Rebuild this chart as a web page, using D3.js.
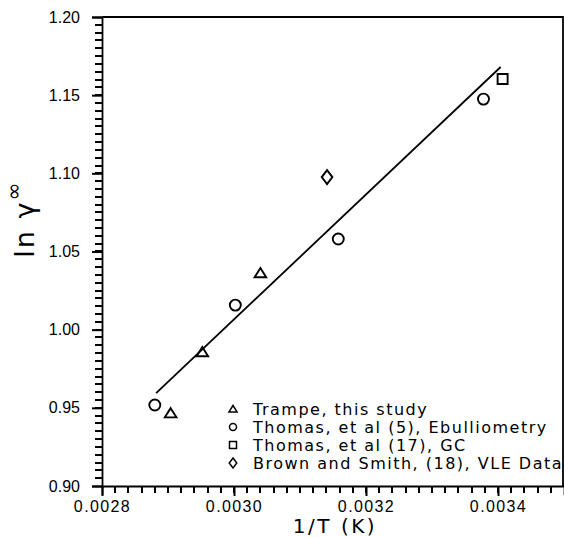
<!DOCTYPE html>
<html>
<head>
<meta charset="utf-8">
<script src="https://cdn.jsdelivr.net/npm/d3@7"></script>
<style>
  body { margin: 0; background: #fff; }
  svg { display: block; font-family: "DejaVu Sans", sans-serif; }
</style>
</head>
<body>
<svg id="chart" width="564" height="537"></svg>
<script>
// values
const trampeX = [0.002904, 0.002952, 0.003040];
const trampeY = [0.9466, 0.9857, 1.0362];
const thomasEbX = [0.002880, 0.003002, 0.003158, 0.003378];
const thomasEbY = [0.9518, 1.0157, 1.0580, 1.1475];
const thomasGcX = [0.003407];
const thomasGcY = [1.1603];
const brownX = [0.003141];
const brownY = [1.0976];
const fitX = [0.002882, 0.003404];
const fitY = [0.9594, 1.1680];

const xMajor = [0.0028, 0.0030, 0.0032, 0.0034];
const yMajor = [0.90, 0.95, 1.00, 1.05, 1.10, 1.15, 1.20];

const legendLabels = [
  'Trampe, this study',
  'Thomas, et al (5), Ebulliometry',
  'Thomas, et al (17), GC',
  'Brown and Smith, (18), VLE Data'
];
const legendShapes = ['triangle', 'circle', 'square', 'diamond'];

const margin = { top: 17, right: 0, bottom: 51, left: 102 };
const height = 537;

const $svg = d3.select('#chart');

const x = d3.scaleLinear().domain([0.0028, 0.0035]).range([margin.left, 564]);
const y = d3.scaleLinear().domain([0.90, 1.20]).range([height - margin.bottom, margin.top]);

const zip = (xs, ys) => xs.map((d, i) => ({ x: d, y: ys[i] }));

const x0 = x(0.0028);
const y0 = y(0.90);

// minor ticks, every 0.00002 on x and 0.005 on y
const xMinor = d3.range(1, 35).map(i => 0.0028 + i * 0.00002);
const yMinor = d3.range(1, 60).map(i => 0.90 + i * 0.005);

const $ticks = $svg.append('g').attr('class', 'minor-ticks');

$ticks.selectAll('rect.xm')
  .data(xMinor)
  .join('rect')
  .attr('class', 'xm')
  .attr('x', d => Math.round(x(d)) - 1)
  .attr('y', y0)
  .attr('width', 2)
  .attr('height', 7)
  .attr('fill', '#000');

$ticks.selectAll('rect.ym')
  .data(yMinor)
  .join('rect')
  .attr('class', 'ym')
  .attr('x', x0 - 7)
  .attr('y', d => Math.round(y(d)) - 1)
  .attr('width', 7)
  .attr('height', 2)
  .attr('fill', '#000');

const $xAxis = $svg.append('g')
  .attr('transform', `translate(0,${y0})`)
  .call(d3.axisBottom(x).tickValues(xMajor).tickSize(9).tickPadding(6)
    .tickFormat(d3.format('.4f')));
$xAxis.selectAll('.tick line')
  .attr('stroke', '#000')
  .attr('stroke-width', 2)
  .attr('y2', 10);
$xAxis.select('.domain').attr('stroke', '#000').attr('stroke-width', 1.8);
$xAxis.selectAll('text')
  .attr('fill', '#000')
  .attr('font-size', 16)
  .attr('letter-spacing', 1.4);

const $yAxis = $svg.append('g')
  .attr('transform', `translate(${x0},0)`)
  .call(d3.axisLeft(y).tickValues(yMajor).tickSize(10).tickPadding(12)
    .tickFormat(d3.format('.2f')));
$yAxis.selectAll('.tick line')
  .attr('stroke', '#000')
  .attr('stroke-width', 2);
$yAxis.select('.domain').attr('stroke', '#000').attr('stroke-width', 1.8);
$yAxis.selectAll('text')
  .attr('fill', '#000')
  .attr('font-size', 16);

// top and right frame
$svg.append('path')
  .attr('d', `M${x0},${y(1.20)}H563V${y0}`)
  .attr('fill', 'none')
  .attr('stroke', '#000')
  .attr('stroke-width', 1.8);

// fitted line
const line = d3.line().x(d => x(d.x)).y(d => y(d.y));
$svg.append('path')
  .datum(zip(fitX, fitY))
  .attr('d', line)
  .attr('fill', 'none')
  .attr('stroke', '#000')
  .attr('stroke-width', 1.8);

// markers
function shapePath(shape, s) {
  if (shape === 'triangle') return `M0,${-s * 0.5}L${s * 0.58},${s * 0.42}L${-s * 0.58},${s * 0.42}Z`;
  if (shape === 'square') return `M${-s / 2},${-s / 2}h${s}v${s}h${-s}Z`;
  if (shape === 'diamond') return `M0,${-s * 0.5}L${s * 0.38},0L0,${s * 0.5}L${-s * 0.38},0Z`;
  return `M${s / 2},0A${s / 2},${s / 2} 0 1,1 ${-s / 2},0A${s / 2},${s / 2} 0 1,1 ${s / 2},0Z`;
}

const series = [
  { shape: 'triangle', pts: zip(trampeX, trampeY), size: 10 },
  { shape: 'circle', pts: zip(thomasEbX, thomasEbY), size: 11 },
  { shape: 'square', pts: zip(thomasGcX, thomasGcY), size: 10 },
  { shape: 'diamond', pts: zip(brownX, brownY), size: 14 }
];

series.forEach(s => {
  $svg.append('g')
    .selectAll('path')
    .data(s.pts)
    .join('path')
    .attr('transform', d => `translate(${x(d.x)},${y(d.y)})`)
    .attr('d', shapePath(s.shape, s.size))
    .attr('fill', 'none')
    .attr('stroke', '#000')
    .attr('stroke-width', 1.9);
});

// legend
const $legend = $svg.append('g').attr('transform', 'translate(233,409)');
const $item = $legend.selectAll('g')
  .data(legendLabels)
  .join('g')
  .attr('transform', (d, i) => `translate(0,${i * 18})`);
$item.append('path')
  .attr('d', (d, i) => shapePath(legendShapes[i], i === 3 ? 10 : 7))
  .attr('fill', 'none')
  .attr('stroke', '#000')
  .attr('stroke-width', 1.5);
$item.append('text')
  .attr('x', 20)
  .attr('dy', '0.36em')
  .attr('font-size', 16)
  .attr('letter-spacing', 1.5)
  .text(d => d);

// axis titles
$svg.append('text')
  .attr('x', 335)
  .attr('y', 533)
  .attr('text-anchor', 'middle')
  .attr('font-size', 20)
  .attr('letter-spacing', 2.5)
  .text('1/T (K)');

const $yTitle = $svg.append('text')
  .attr('transform', 'translate(34,219) rotate(-90)')
  .attr('text-anchor', 'middle')
  .attr('font-size', 27)
  .attr('letter-spacing', 2);
$yTitle.append('tspan').text('ln ');
$yTitle.append('tspan').text('γ');
$yTitle.append('tspan').attr('dy', -13).attr('font-size', 22).text('∞');
</script>
</body>
</html>
